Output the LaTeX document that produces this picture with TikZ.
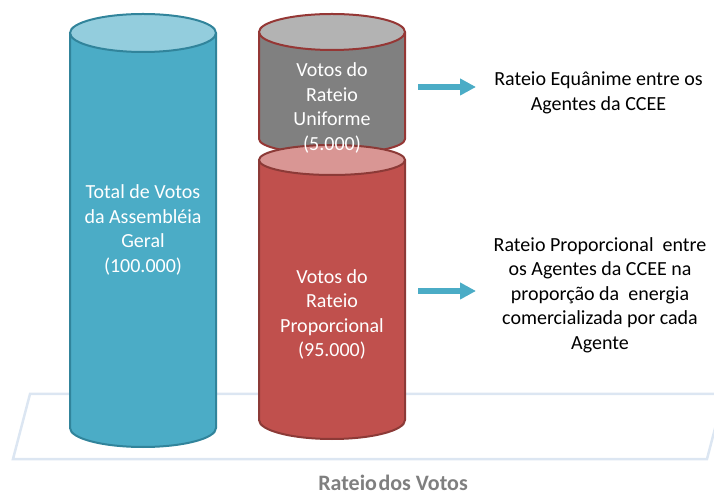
\documentclass[tikz,border=0pt]{standalone}
\usepackage{fontspec}
\setmainfont{Carlito}
\usetikzlibrary{arrows.meta}
\definecolor{bluebody}{HTML}{4BACC6}
\definecolor{bluetop}{HTML}{93CDDD}
\definecolor{blueline}{HTML}{31849B}
\definecolor{graybody}{HTML}{808080}
\definecolor{graytop}{HTML}{B3B3B3}
\definecolor{grayline}{HTML}{953735}
\definecolor{redbody}{HTML}{C0504D}
\definecolor{redtop}{HTML}{D99694}
\definecolor{redline}{HTML}{8C3A37}
\definecolor{platcol}{HTML}{DCE6F2}
\definecolor{titlecol}{HTML}{7F7F7F}
\newcommand{\drawcyl}[7]{%
  \path[fill=#7body,draw=#7line,line width=2pt,line join=round]
    (#1-#4,#2) -- (#1-#4,#3) arc[start angle=180,end angle=360,x radius=#4pt,y radius=#6pt]
    -- (#1+#4,#2) -- cycle;
  \path[fill=#7top,draw=#7line,line width=2pt] (#1,#2) ellipse[x radius=#4pt,y radius=#5pt];
}
\begin{document}
\begin{tikzpicture}[x=1pt,y=1pt,
  cyltext/.style={text=white,align=center,font=\fontsize{20}{24.5}\selectfont,inner sep=0pt},
  desc/.style={text=black,align=center,font=\fontsize{20}{24.5}\selectfont,inner sep=0pt},
  bluearrow/.style={draw=bluebody,line width=6pt,-{Triangle[width=16pt,length=16pt]}},
  platform/.style={draw=platcol,line width=2.5pt,line join=miter}]
\useasboundingbox (0,0) rectangle (714,495);
\clip (0,0) rectangle (714,495);
% platform
\draw[platform] (13,36) -- (30,101) -- (724,101) -- (707,36) -- cycle;
% cylinders
\drawcyl{143}{462}{67}{73}{19}{19}{blue}
\drawcyl{332}{463}{356}{73}{18}{15}{gray}
\drawcyl{332}{335}{75}{73}{15}{19}{red}
% texts
\node[cyltext] (total) at (143,265) {Total de Votos\\da Assembléia\\Geral\\(100.000)};
\node[cyltext] (unif) at (332,387) {Votos do\\Rateio\\Uniforme\\(5.000)};
\node[cyltext] (prop) at (332,180.5) {Votos do\\Rateio\\Proporcional\\(95.000)};
\node[desc] (equa) at (598.5,402) {Rateio Equânime entre os\\Agentes da CCEE};
\node[desc] (propdesc) at (600,200) {Rateio Proporcional\ \ entre\\os Agentes da CCEE na\\proporção da\ \ energia\\comercializada por cada\\Agente};
\node[text=titlecol,font=\fontsize{22}{24}\selectfont\bfseries,anchor=base,inner sep=0pt] (title) at (393,5) {Rateio\hspace{1.5pt}dos Votos};
% arrows
\coordinate (a1s) at (418,408);
\coordinate (a1e) at (476,408);
\coordinate (a2s) at (418,204);
\coordinate (a2e) at (476,204);
\draw[bluearrow] (a1s) -- (a1e);
\draw[bluearrow] (a2s) -- (a2e);
\end{tikzpicture}
\end{document}
